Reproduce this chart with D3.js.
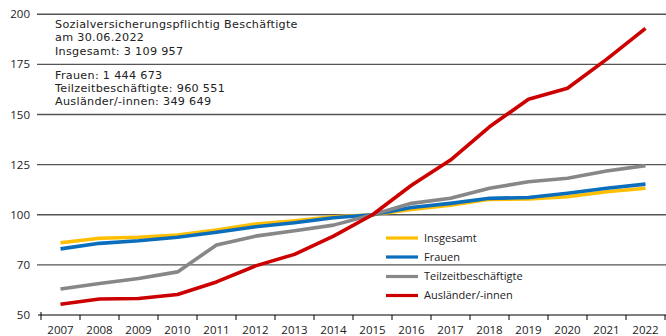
<!DOCTYPE html>
<html lang="de">
<head>
<meta charset="utf-8">
<script src="https://cdn.jsdelivr.net/npm/d3@7/dist/d3.min.js"></script>
<style>
  html, body { margin: 0; padding: 0; background: #fff; }
  svg { display: block; font-family: "Open Sans", "Noto Sans", sans-serif; }
</style>
</head>
<body>
<svg id="chart" width="666" height="336"></svg>
<script>
// Index 2015 = 100, sozialversicherungspflichtig Beschäftigte (30.06.)
const years = [2007, 2008, 2009, 2010, 2011, 2012, 2013, 2014, 2015, 2016, 2017, 2018, 2019, 2020, 2021, 2022];
const insgesamt = [83.2, 85.9, 86.5, 87.8, 90.8, 94.4, 96.4, 98.8, 100, 102.7, 104.8, 107.7, 107.9, 109.0, 111.5, 113.2];
const frauen = [79.6, 82.9, 84.4, 86.5, 89.5, 92.8, 95.2, 98.2, 100, 103.6, 105.7, 108.2, 108.6, 110.7, 113.2, 115.3];
const teilzeit = [60.4, 62.6, 64.6, 67.2, 81.9, 87.2, 90.4, 93.8, 100, 105.7, 108.2, 113.2, 116.5, 118.2, 121.8, 124.5];
const auslaender = [54.3, 56.4, 56.6, 58.2, 63.2, 69.6, 76.3, 87.2, 100, 114.7, 127.3, 143.9, 157.6, 163.1, 177.5, 193.0];

const yTicks = [50, 70, 100, 125, 150, 175, 200];

const seriesNames = ["Insgesamt", "Frauen", "Teilzeitbeschäftigte", "Ausländer/-innen"];
const seriesColors = ["#FFBE00", "#0A6EBD", "#878787", "#CC0000"];
const seriesValues = [insgesamt, frauen, teilzeit, auslaender];

const infoLines = [
  "Sozialversicherungspflichtig Beschäftigte",
  "am 30.06.2022",
  "Insgesamt: 3 109 957"
];
const infoLines2 = [
  "Frauen: 1 444 673",
  "Teilzeitbeschäftigte: 960 551",
  "Ausländer/-innen: 349 649"
];

const svg = d3.select("#chart");
const plotLeft = 41, plotRight = 665, plotBottom = 315, plotTop = 14.3;
const gridLeft = 37, gridRight = 666;

// Broken value axis: each labelled tick gets an equal share of height
const step = (plotBottom - plotTop) / (yTicks.length - 1);
const y = d3.scaleLinear()
  .domain(yTicks)
  .range(yTicks.map((_, i) => plotBottom - i * step));

const x = d3.scaleBand().domain(years).range([plotLeft, plotRight]).padding(0);
const xc = d => x(d) + x.bandwidth() / 2;

// Horizontal gridlines (except the baseline)
svg.append("g")
  .selectAll("line")
  .data(yTicks.slice(1))
  .join("line")
  .attr("x1", gridLeft).attr("x2", gridRight)
  .attr("y1", d => y(d)).attr("y2", d => y(d))
  .attr("stroke", "#555").attr("stroke-width", 1.4);

// Y tick labels
svg.append("g")
  .selectAll("text")
  .data(yTicks)
  .join("text")
  .attr("x", 30).attr("y", d => y(d))
  .attr("dy", "0.35em")
  .attr("text-anchor", "end")
  .attr("font-size", 11.5)
  .attr("fill", "#222")
  .text(d => d);

// X axis baseline and ticks between categories
svg.append("line")
  .attr("x1", plotLeft - 3).attr("x2", gridRight)
  .attr("y1", plotBottom).attr("y2", plotBottom)
  .attr("stroke", "#000").attr("stroke-width", 1.2);

const bounds = years.map(d => x(d)).concat([x(years[years.length - 1]) + x.bandwidth()]);
svg.append("g")
  .selectAll("line")
  .data(bounds)
  .join("line")
  .attr("x1", d => d).attr("x2", d => d)
  .attr("y1", (d, i) => i === 0 ? plotBottom - 3 : plotBottom)
  .attr("y2", plotBottom + 5)
  .attr("stroke", "#000").attr("stroke-width", 1);

svg.append("g")
  .selectAll("text")
  .data(years)
  .join("text")
  .attr("x", d => xc(d)).attr("y", 330)
  .attr("dy", "0.35em")
  .attr("text-anchor", "middle")
  .attr("font-size", 11.5)
  .attr("fill", "#222")
  .text(d => d);

// Series lines
const line = d3.line()
  .x((d, i) => xc(years[i]))
  .y(d => y(d));

svg.append("g")
  .selectAll("path")
  .data(seriesValues)
  .join("path")
  .attr("d", d => line(d))
  .attr("fill", "none")
  .attr("stroke", (d, i) => seriesColors[i])
  .attr("stroke-width", 3.6)
  .attr("stroke-linejoin", "round");

// Legend
const legend = svg.append("g");
const legendY = [238, 257, 276.5, 295.5];
seriesNames.forEach((name, i) => {
  legend.append("line")
    .attr("x1", 386).attr("x2", 418)
    .attr("y1", legendY[i]).attr("y2", legendY[i])
    .attr("stroke", seriesColors[i]).attr("stroke-width", 3.2);
  legend.append("text")
    .attr("x", 424).attr("y", legendY[i])
    .attr("dy", "0.35em")
    .attr("font-size", 11)
    .attr("fill", "#222")
    .text(name);
});

// Info text blocks (compact font so the tight leading stays clear)
function infoBlock(lines, y0, lead) {
  const g = svg.append("g")
    .attr("font-family", "'DejaVu Sans', sans-serif")
    .attr("font-size", 11.2)
    .attr("letter-spacing", 0.3)
    .attr("fill", "#222");
  lines.forEach((s, i) => {
    g.append("text")
      .attr("x", 55)
      .attr("y", y0 + i * lead)
      .attr("dy", "0.35em")
      .text(s);
  });
}
infoBlock(infoLines, 24, 13.5);
infoBlock(infoLines2, 75, 13.2);
</script>
</body>
</html>
